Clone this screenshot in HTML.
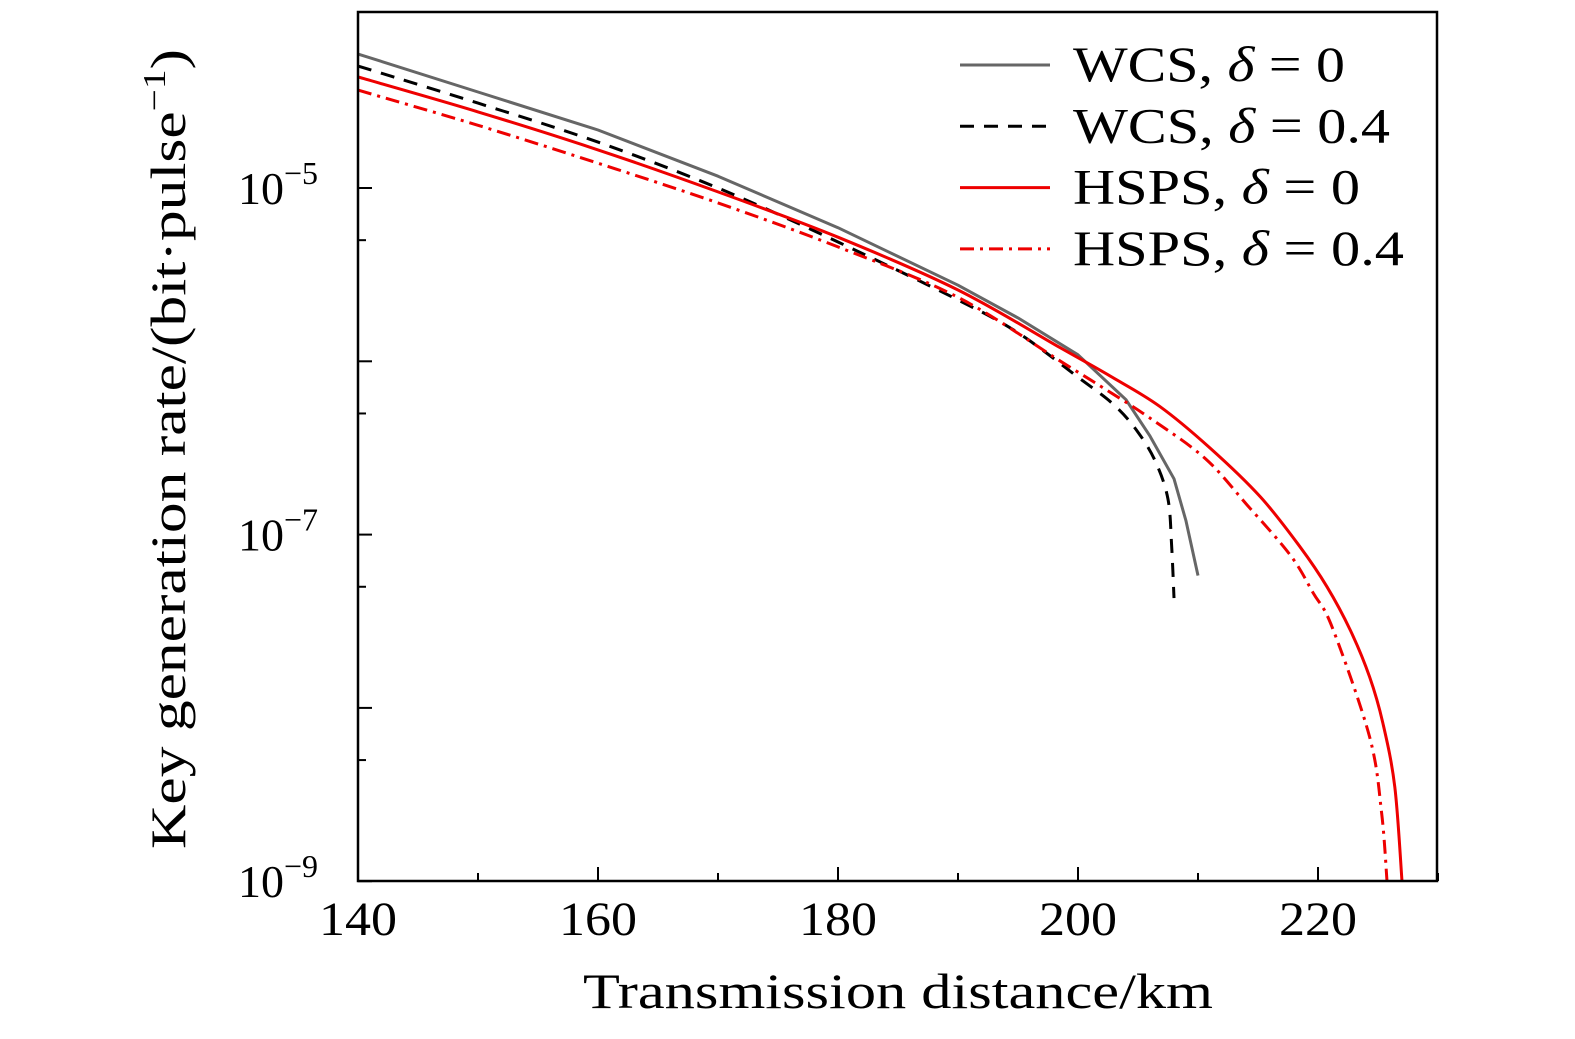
<!DOCTYPE html>
<html><head><meta charset="utf-8">
<style>
html,body{margin:0;padding:0;background:#fff;}
svg{display:block;font-family:"Liberation Serif",serif;}
</style></head>
<body>
<svg id="chart" width="1575" height="1039" viewBox="0 0 1575 1039" xmlns="http://www.w3.org/2000/svg">
<g id="marks"></g>
<g id="axes"></g>
<g id="legend"></g>
</svg>
<script>
const xTicks = [140, 160, 180, 200, 220];
const xMinor = [150, 170, 190, 210, 230];
const yMajorExp = [-5, -7, -9];
const yUnlabeledExp = [-6, -8];
const yMinor = [5e-6, 5e-7, 5e-8, 5e-9];
const wcs0X = [140,150,160,170,180,190,195,200,204,206,208,209,210];
const wcs0Y = [5.93e-5,3.58e-5,2.16e-5,1.17e-5,5.9e-6,2.75e-6,1.78e-6,1.09e-6,6.0e-7,3.7e-7,2.1e-7,1.2e-7,5.8e-8];
const wcs4X = [140,150,160,170,180,190,195,200,203,205,206.5,207.5,207.8,208];
const wcs4Y = [5.06e-5,3.09e-5,1.84e-5,1.0e-5,4.88e-6,2.26e-6,1.46e-6,8.1e-7,5.6e-7,3.9e-7,2.6e-7,1.6e-7,8.7e-8,4.3e-8];
const hsps0X = [140,150,160,170,180,190,198.5,202.7,206.8,211,215.2,218.5,220.75,222.7,224.3,225.4,226.4,227];
const hsps0Y = [4.37e-5,2.75e-5,1.66e-5,9.5e-6,5.2e-6,2.58e-6,1.2e-6,8.2e-7,5.5e-7,3.16e-7,1.65e-7,8.5e-8,5.0e-8,2.8e-8,1.51e-8,8.2e-9,3.5e-9,1e-9];
const hsps4X = [140,150,160,170,180,190,198.75,202,206,210.6,214.1,217.7,219.6,221.2,224.3,225.3,225.75];
const hsps4Y = [3.67e-5,2.3e-5,1.39e-5,8.2e-6,4.57e-6,2.34e-6,9.8e-7,7.1e-7,4.7e-7,2.75e-7,1.48e-7,7.6e-8,4.6e-8,2.9e-8,6.8e-9,2.48e-9,1e-9];

const L=358,R=1437,T=12,B=881;
const xs = v => L + (v-140)*12;
const ys = v => 188 - (Math.log10(v)+5)*173.3;
const NS="http://www.w3.org/2000/svg";
function mk(tag, attrs, parent){const e=document.createElementNS(NS,tag);for(const k in attrs)e.setAttribute(k,attrs[k]);parent.appendChild(e);return e;}
const marks=document.getElementById('marks'), axes=document.getElementById('axes'), legend=document.getElementById('legend');

const clip=mk('clipPath',{id:'pc'},document.getElementById('chart'));
mk('rect',{x:L,y:T,width:R-L,height:B-T+2},clip);
marks.setAttribute('clip-path','url(#pc)');

function smooth(pts){
  let d='M'+pts[0][0].toFixed(1)+' '+pts[0][1].toFixed(1);
  for(let i=0;i<pts.length-1;i++){
    const p0=pts[i-1]||pts[i],p1=pts[i],p2=pts[i+1],p3=pts[i+2]||p2;
    const c1=[p1[0]+(p2[0]-p0[0])/6,p1[1]+(p2[1]-p0[1])/6];
    const c2=[p2[0]-(p3[0]-p1[0])/6,p2[1]-(p3[1]-p1[1])/6];
    d+=' C'+c1.map(v=>v.toFixed(1)).join(' ')+' '+c2.map(v=>v.toFixed(1)).join(' ')+' '+p2[0].toFixed(1)+' '+p2[1].toFixed(1);
  }
  return d;
}

const series=[
 {x:wcs0X,y:wcs0Y,c:'#666',d:'',name:'wcs-delta-0-line',lab:'WCS, ',v:'0',sm:false,w:272},
 {x:wcs4X,y:wcs4Y,c:'#000',d:'14 10',name:'wcs-delta-0.4-line',lab:'WCS, ',v:'0.4',sm:true,w:317},
 {x:hsps0X,y:hsps0Y,c:'#e00',d:'',name:'hsps-delta-0-line',lab:'HSPS, ',v:'0',sm:true,w:287},
 {x:hsps4X,y:hsps4Y,c:'#e00',d:'14 6 3 6',name:'hsps-delta-0.4-line',lab:'HSPS, ',v:'0.4',sm:true,w:331}
];
series.forEach((s,i)=>{
  const pts=s.x.map((v,j)=>[xs(v),ys(s.y[j])]);
  const dd=s.sm?smooth(pts):pts.map((p,j)=>(j?'L':'M')+p[0].toFixed(1)+' '+p[1].toFixed(1)).join(' ');
  const p=mk('path',{d:dd,fill:'none',stroke:s.c,'stroke-width':3,'stroke-dasharray':s.d,'stroke-linejoin':'round'},marks);
  
  
  const yy=65+i*61.3;
  const g=mk('g',{},legend);
  
  
  mk('line',{x1:960,x2:1050,y1:yy,y2:yy,stroke:s.c,'stroke-width':3,'stroke-dasharray':s.d},g);
  const t=mk('text',{x:1073,y:yy+16,'font-size':50,textLength:s.w,lengthAdjust:'spacingAndGlyphs'},g);
  t.innerHTML=s.lab+'<tspan font-style="italic">δ</tspan> = '+s.v;
});

const frame=mk('rect',{x:L,y:T,width:R-L,height:B-T,fill:'none',stroke:'#000','stroke-width':2.5},axes);


xTicks.forEach(v=>{
  mk('line',{x1:xs(v),x2:xs(v),y1:B,y2:B-14,stroke:'#000','stroke-width':2},axes);
  const t=mk('text',{x:xs(v),y:935,'font-size':48,'text-anchor':'middle',textLength:78,lengthAdjust:'spacingAndGlyphs'},axes);
  t.textContent=v;
  
  
});
xMinor.forEach(v=>mk('line',{x1:xs(v),x2:xs(v),y1:B,y2:B-8,stroke:'#000','stroke-width':2},axes));
yMajorExp.forEach(e=>{
  const y=ys(Math.pow(10,e));
  mk('line',{x1:L,x2:L+14,y1:y,y2:y,stroke:'#000','stroke-width':2},axes);
  const t=mk('text',{x:318,y:y+16,'font-size':46,'text-anchor':'end'},axes);
  t.innerHTML='10<tspan dy="-20" font-size="32">−'+(-e)+'</tspan>';
  
  
});
yUnlabeledExp.forEach(e=>{const y=ys(Math.pow(10,e));mk('line',{x1:L,x2:L+14,y1:y,y2:y,stroke:'#000','stroke-width':2},axes);});
yMinor.forEach(v=>{const y=ys(v);mk('line',{x1:L,x2:L+8,y1:y,y2:y,stroke:'#000','stroke-width':2},axes);});
const xt=mk('text',{x:898,y:1008,'font-size':50,'text-anchor':'middle',textLength:630,lengthAdjust:'spacingAndGlyphs'},axes);
xt.textContent='Transmission distance/km';


const yt=mk('text',{x:0,y:0,'font-size':50,'text-anchor':'middle',transform:'translate(185,449) rotate(-90)',textLength:800,lengthAdjust:'spacingAndGlyphs'},axes);
yt.innerHTML='Key generation rate/(bit·pulse<tspan dy="-20" font-size="32">−1</tspan><tspan dy="20">)</tspan>';


</script>
</body></html>
